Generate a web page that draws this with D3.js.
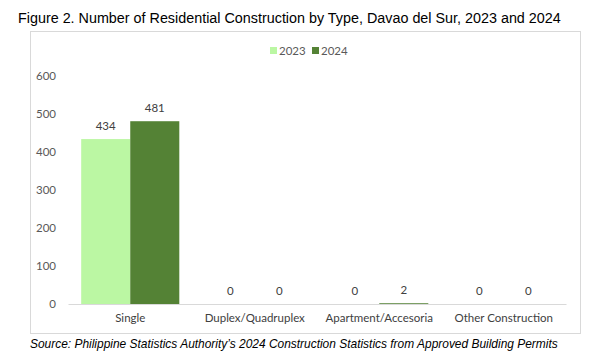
<!DOCTYPE html>
<html><head><meta charset="utf-8">
<script src="https://cdn.jsdelivr.net/npm/d3@7"></script>
<style>body{margin:0;background:#fff}svg{display:block}</style>
</head><body>
<script>
const categories = ["Single","Duplex/Quadruplex","Apartment/Accesoria","Other Construction"];
const seriesNames = ["2023","2024"];
const values2023 = [434,0,0,0];
const values2024 = [481,0,2,0];
const yTicks = [0,100,200,300,400,500,600];
const colors = ["#bbf7a3","#548235"];

const W=609,H=361;
const svg=d3.select("body").append("svg").attr("width",W).attr("height",H);
svg.append("rect").attr("width",W).attr("height",H).attr("fill","#fff");

svg.append("text").attr("x",18).attr("y",23).attr("font-family","Liberation Sans, Arial, sans-serif")
 .attr("font-size",14.35).attr("fill","#000")
 .text("Figure 2. Number of Residential Construction by Type, Davao del Sur, 2023 and 2024");

svg.append("rect").attr("x",30.5).attr("y",31.5).attr("width",550).attr("height",302)
 .attr("fill","#fff").attr("stroke","#d9d9d9");

const x=d3.scaleBand().domain(categories).range([68,566]).paddingInner(0.212).paddingOuter(0.106);
const xs=d3.scaleBand().domain(seriesNames).range([0,x.bandwidth()]);
const y=d3.scaleLinear().domain([0,600]).range([304,76]);

const font="Lato, Carlito, sans-serif";
const yAxis=svg.append("g").attr("transform","translate(68,0)")
 .call(d3.axisLeft(y).tickValues(yTicks).tickSize(0).tickPadding(12));
yAxis.select(".domain").remove();
yAxis.selectAll("text").attr("font-family",font).attr("font-size",11.5).attr("fill","#595959");

const rows=categories.map((c,i)=>({c,vals:[values2023[i],values2024[i]]}));
const g=svg.append("g");
rows.forEach(r=>{
  r.vals.forEach((v,j)=>{
    const s=seriesNames[j];
    g.append("rect").attr("x",x(r.c)+xs(s)).attr("y",y(v)).attr("width",xs.bandwidth())
     .attr("height",y(0)-y(v)).attr("fill",colors[j]);
    g.append("text").attr("x",x(r.c)+xs(s)+xs.bandwidth()/2).attr("y",y(v)-9)
     .attr("text-anchor","middle").attr("font-family",font).attr("font-size",11.5).attr("fill","#404040").text(v);
  });
});

const xAxis=svg.append("g").attr("transform","translate(0,304)")
 .call(d3.axisBottom(x).tickSize(0).tickPadding(10));
xAxis.select(".domain").attr("stroke","#d9d9d9");
xAxis.selectAll("text").attr("font-family",font).attr("font-size",11.5).attr("fill","#404040");

const leg=svg.append("g").attr("transform","translate(270,47)");
seriesNames.forEach((s,i)=>{
  const lg=leg.append("g").attr("transform",`translate(${i*42},0)`);
  lg.append("rect").attr("width",7).attr("height",7).attr("fill",colors[i]);
  lg.append("text").attr("x",9).attr("y",7.5).attr("font-family",font).attr("font-size",11.5).attr("fill","#595959").text(s);
});

svg.append("text").attr("x",30).attr("y",348).attr("font-family","Liberation Sans, Arial, sans-serif")
 .attr("font-size",11.95).attr("font-style","italic").attr("fill","#000")
 .text("Source: Philippine Statistics Authority\u2019s 2024 Construction Statistics from Approved Building Permits");
</script>
</body></html>
